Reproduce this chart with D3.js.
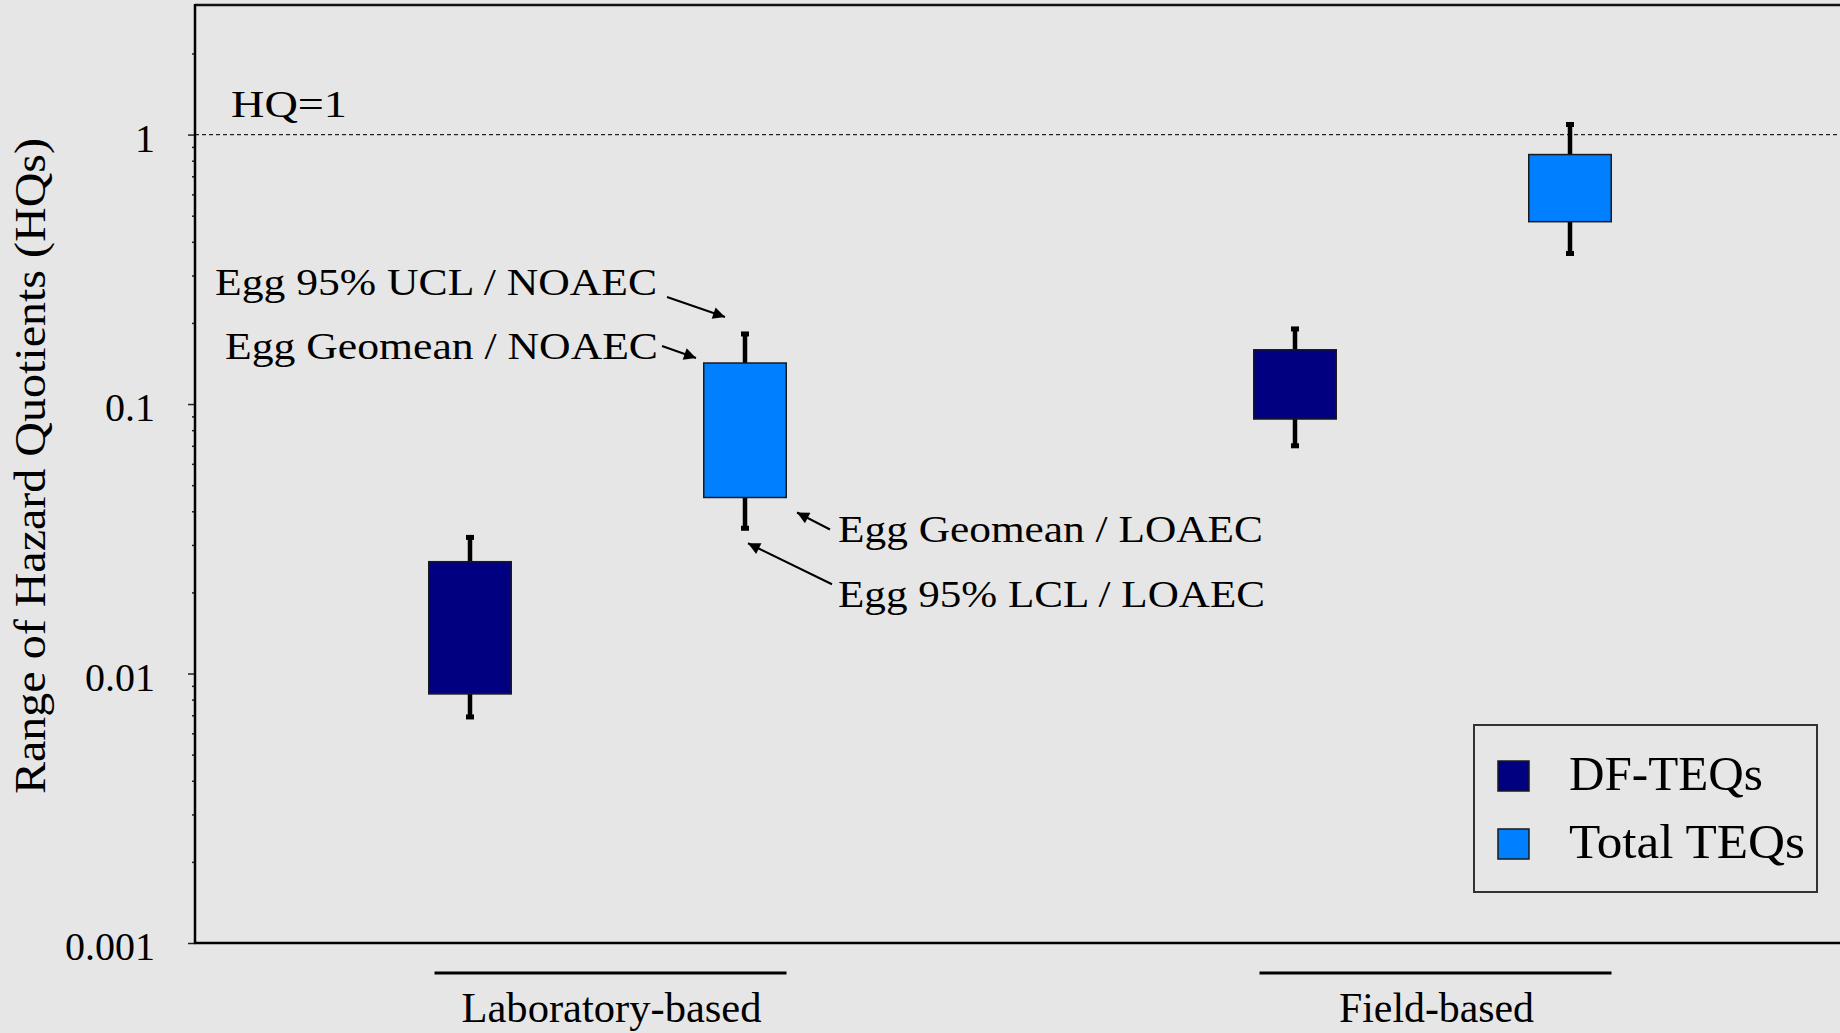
<!DOCTYPE html>
<html>
<head>
<meta charset="utf-8">
<script src="https://cdn.jsdelivr.net/npm/d3@7"></script>
<style>
  html, body { margin: 0; padding: 0; background: #e6e6e6; overflow: hidden; }
  svg { display: block; }
  text { font-family: "Liberation Serif", "DejaVu Serif", serif; fill: #000; }
</style>
</head>
<body>
<svg id="chart" width="1840" height="1033"></svg>
<script>
// ---- data ----
const groups = ["Laboratory-based", "Field-based"];
const seriesNames = ["DF-TEQs", "Total TEQs"];
const seriesColors = ["#000080", "#0080ff"];

// DF-TEQs: box = geomean range, whiskers = 95% confidence limits
const dfBoxLow = [0.0084, 0.088];
const dfBoxHigh = [0.026, 0.159];
const dfWhiskerLow = [0.0069, 0.070];
const dfWhiskerHigh = [0.032, 0.190];

// Total TEQs
const totalBoxLow = [0.045, 0.475];
const totalBoxHigh = [0.142, 0.843];
const totalWhiskerLow = [0.0346, 0.362];
const totalWhiskerHigh = [0.182, 1.09];

const yTickValues = [0.001, 0.01, 0.1, 1];
const yTickLabels = ["0.001", "0.01", "0.1", "1"];
const yMinorTicks = [2, 3, 4, 5, 6, 7, 8, 9].flatMap(m => [0.001, 0.01, 0.1, 1].map(d => m * d)).filter(v => v < 3);
const referenceHQ = 1;
const referenceLabel = "HQ=1";
const yTitle = "Range of Hazard Quotients (HQs)";

const annotations = [
  { text: "Egg 95% UCL / NOAEC", ref: "whiskerHigh" },
  { text: "Egg Geomean / NOAEC", ref: "boxHigh" },
  { text: "Egg Geomean / LOAEC", ref: "boxLow" },
  { text: "Egg 95% LCL / LOAEC", ref: "whiskerLow" }
];

// ---- layout ----
const svg = d3.select("#chart");
const W = 1840, H = 1033;
const m = { left: 195, bottom: 943, top: 6, right: 1845 };

svg.append("rect").attr("width", W).attr("height", H).attr("fill", "#e6e6e6");

// slots: groups centred at 1.5 and 4.5, series offset by half a slot
const x = d3.scaleLinear().domain([0, 6]).range([m.left, m.right]);
const y = d3.scaleLog().domain([0.001, 3]).range([m.bottom, m.top]);
const groupCenter = [1.5, 4.5];
const seriesOffset = [-0.5, 0.5];
const boxWidth = x(0.3) - x(0);

const series = [
  { name: seriesNames[0], color: seriesColors[0], boxLow: dfBoxLow, boxHigh: dfBoxHigh, whiskerLow: dfWhiskerLow, whiskerHigh: dfWhiskerHigh },
  { name: seriesNames[1], color: seriesColors[1], boxLow: totalBoxLow, boxHigh: totalBoxHigh, whiskerLow: totalWhiskerLow, whiskerHigh: totalWhiskerHigh }
];

// frame
svg.append("line").attr("x1", m.left).attr("x2", m.right).attr("y1", m.top - 1).attr("y2", m.top - 1)
  .attr("stroke", "#111").attr("stroke-width", 2.5);

// reference line HQ = 1
svg.append("line")
  .attr("x1", m.left).attr("x2", m.right)
  .attr("y1", y(referenceHQ)).attr("y2", y(referenceHQ))
  .attr("stroke", "#222").attr("stroke-width", 1.2).attr("stroke-dasharray", "4,3");
svg.append("text")
  .attr("x", 231).attr("y", y(referenceHQ) - 18)
  .attr("font-size", 38).attr("textLength", 116).attr("lengthAdjust", "spacingAndGlyphs")
  .text(referenceLabel);

// y axis: minor ticks then major ticks with labels
const minorAxis = d3.axisLeft(y).tickValues(yMinorTicks).tickSize(3).tickFormat("");
svg.append("g").attr("transform", `translate(${m.left},0)`).call(minorAxis)
  .call(g => g.select(".domain").remove())
  .call(g => g.selectAll("line").attr("stroke", "#222").attr("stroke-width", 1.5));

const majorAxis = d3.axisLeft(y).tickValues(yTickValues).tickSize(7).tickPadding(33)
  .tickFormat((d, i) => yTickLabels[i]);
svg.append("g").attr("transform", `translate(${m.left},0)`).call(majorAxis)
  .call(g => g.select(".domain").remove())
  .call(g => g.selectAll("line").attr("stroke", "#222").attr("stroke-width", 1.5))
  .call(g => g.selectAll("text")
    .attr("font-family", '"Liberation Serif", serif')
    .attr("font-size", 40).attr("fill", "#000").attr("dy", "0.42em"));

// axis lines
svg.append("line").attr("x1", m.left).attr("x2", m.left).attr("y1", m.top - 2).attr("y2", m.bottom + 1)
  .attr("stroke", "#000").attr("stroke-width", 2.5);
svg.append("line").attr("x1", m.left - 1).attr("x2", m.right).attr("y1", m.bottom).attr("y2", m.bottom)
  .attr("stroke", "#000").attr("stroke-width", 2.5);

// y title
svg.append("text")
  .attr("transform", `translate(45,466) rotate(-90)`)
  .attr("text-anchor", "middle")
  .attr("font-size", 45).attr("textLength", 656).attr("lengthAdjust", "spacingAndGlyphs")
  .text(yTitle);

// group labels with a rule above each
const groupLabelWidth = [300, 195];
groups.forEach((g, i) => {
  const cx = x(groupCenter[i]) + 4;
  svg.append("line")
    .attr("x1", x(groupCenter[i] - 0.64) + 3).attr("x2", x(groupCenter[i] + 0.64) + 3)
    .attr("y1", 973).attr("y2", 973)
    .attr("stroke", "#000").attr("stroke-width", 3);
  svg.append("text")
    .attr("x", cx).attr("y", 1022).attr("text-anchor", "middle")
    .attr("font-size", 42).attr("textLength", groupLabelWidth[i]).attr("lengthAdjust", "spacingAndGlyphs")
    .text(g);
});

// boxes with whiskers
series.forEach((s, si) => {
  groups.forEach((g, gi) => {
    const cx = x(groupCenter[gi] + seriesOffset[si]);
    const grp = svg.append("g");
    grp.append("line")
      .attr("x1", cx).attr("x2", cx)
      .attr("y1", y(s.whiskerLow[gi])).attr("y2", y(s.whiskerHigh[gi]))
      .attr("stroke", "#000").attr("stroke-width", 4.5);
    [s.whiskerLow[gi], s.whiskerHigh[gi]].forEach(v => {
      grp.append("rect")
        .attr("x", cx - 4).attr("y", y(v) - 2.5)
        .attr("width", 8).attr("height", 5).attr("fill", "#000");
    });
    grp.append("rect")
      .attr("x", cx - boxWidth / 2).attr("width", boxWidth)
      .attr("y", y(s.boxHigh[gi])).attr("height", y(s.boxLow[gi]) - y(s.boxHigh[gi]))
      .attr("fill", s.color).attr("stroke", "#1a1a1a").attr("stroke-width", 1.5);
  });
});

// annotations on laboratory Total TEQs box
const defs = svg.append("defs");
defs.append("marker")
  .attr("id", "arrowhead").attr("viewBox", "0 0 10 10")
  .attr("refX", 10).attr("refY", 5)
  .attr("markerWidth", 15).attr("markerHeight", 12)
  .attr("markerUnits", "userSpaceOnUse")
  .attr("orient", "auto")
  .append("path").attr("d", "M0,0 L10,5 L0,10 Z").attr("fill", "#000");

const annoCx = x(groupCenter[0] + seriesOffset[1]);
const annoSeries = series[1];
// offsets (px) from the referenced point: arrow head, arrow tail, text anchor
const annoLayout = {
  whiskerHigh: { head: [-20, -17], tail: [-78, -37], text: [-88, -39], anchor: "end", width: 442 },
  boxHigh:     { head: [-49, -5],  tail: [-83, -17], text: [-87, -4],  anchor: "end", width: 433 },
  boxLow:      { head: [52, 15],   tail: [85, 32],   text: [93, 45],   anchor: "start", width: 425 },
  whiskerLow:  { head: [3, 15],    tail: [87, 56],   text: [93, 79],   anchor: "start", width: 427 }
};
annotations.forEach(a => {
  const L = annoLayout[a.ref];
  const py = y(annoSeries[a.ref][0]);
  svg.append("line")
    .attr("x1", annoCx + L.tail[0]).attr("y1", py + L.tail[1])
    .attr("x2", annoCx + L.head[0]).attr("y2", py + L.head[1])
    .attr("stroke", "#000").attr("stroke-width", 2)
    .attr("marker-end", "url(#arrowhead)");
  svg.append("text")
    .attr("x", annoCx + L.text[0]).attr("y", py + L.text[1])
    .attr("text-anchor", L.anchor)
    .attr("font-size", 38).attr("textLength", L.width).attr("lengthAdjust", "spacingAndGlyphs")
    .text(a.text);
});

// legend
const legend = svg.append("g");
legend.append("rect")
  .attr("x", 1474).attr("y", 725).attr("width", 343).attr("height", 167)
  .attr("fill", "none").attr("stroke", "#333").attr("stroke-width", 2);
const legendWidths = [194, 236];
series.forEach((s, i) => {
  const ly = 761 + i * 68;
  legend.append("rect")
    .attr("x", 1498).attr("y", ly).attr("width", 31).attr("height", 30)
    .attr("fill", s.color).attr("stroke", "#1a1a1a").attr("stroke-width", 1.5);
  legend.append("text")
    .attr("x", 1569).attr("y", ly + 29)
    .attr("font-size", 48).attr("textLength", legendWidths[i]).attr("lengthAdjust", "spacingAndGlyphs")
    .text(s.name);
});
</script>
</body>
</html>
